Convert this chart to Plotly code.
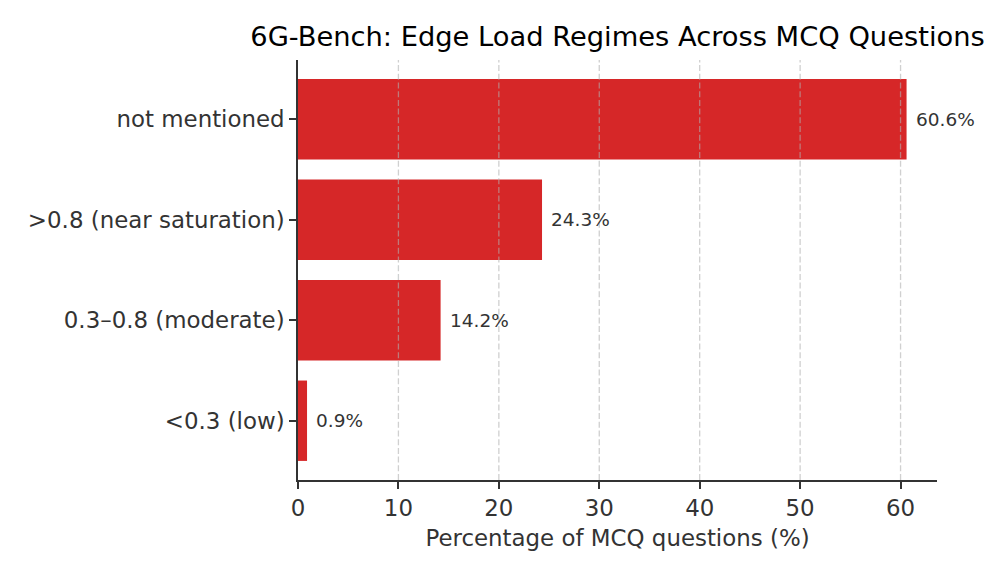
import plotly.graph_objects as go

categories = ["<0.3 (low)", "0.3–0.8 (moderate)", ">0.8 (near saturation)", "not mentioned"]
values = [0.9, 14.2, 24.3, 60.6]
x_ticks = [0, 10, 20, 30, 40, 50, 60]

title = "6G-Bench: Edge Load Regimes Across MCQ Questions"
x_title = "Percentage of MCQ questions (%)"

FONT = "DejaVu Sans"
BAR = "#d62728"
DARK = "#333333"
GRID = "rgba(176,176,176,0.6)"

fig = go.Figure()
fig.add_trace(go.Bar(
    x=values, y=list(range(len(categories))), orientation="h",
    marker=dict(color=BAR, line=dict(width=0)), width=0.8,
    hoverinfo="skip", showlegend=False,
))

# dashed vertical grid drawn above the bars (as in the reference)
for t in x_ticks[1:]:
    fig.add_shape(
        type="line", xref="x", yref="paper", x0=t, x1=t, y0=0, y1=1,
        line=dict(color=GRID, width=1.3, dash="6px,2.7px"), layer="above",
    )

for i, v in enumerate(values):
    fig.add_annotation(
        x=v, y=i, xref="x", yref="y", text=f"{v:.1f}%",
        showarrow=False, xanchor="left", yanchor="middle", xshift=7,
        font=dict(family=FONT, size=18.5, color=DARK),
    )

fig.update_layout(
    width=980, height=565,
    margin=dict(l=290, r=51, t=52, b=93),
    plot_bgcolor="white", paper_bgcolor="white",
    font=dict(family=FONT, color=DARK),
    title=dict(
        text=title, x=0.5, xref="paper", xanchor="center",
        y=1, yref="paper", yanchor="bottom", pad=dict(b=14),
        font=dict(family=FONT, size=27.3, color="black"),
    ),
    bargap=0.2,
)

fig.update_xaxes(
    range=[0, 63.63], tickvals=x_ticks, ticktext=[str(t) for t in x_ticks],
    showline=True, linecolor=DARK, linewidth=1.6, mirror=False,
    ticks="outside", ticklen=7, tickwidth=1.6, tickcolor=DARK,
    tickfont=dict(family=FONT, size=22.9, color=DARK),
    showgrid=False, zeroline=False, layer="above traces",
    title=dict(text=x_title, font=dict(family=FONT, size=22.9, color=DARK), standoff=10),
)

fig.update_yaxes(
    range=[-0.59, 3.59], tickvals=list(range(len(categories))), ticktext=categories,
    showline=True, linecolor=DARK, linewidth=1.6, mirror=False,
    ticks="outside", ticklen=7, tickwidth=1.6, tickcolor=DARK,
    tickfont=dict(family=FONT, size=22.9, color=DARK),
    showgrid=False, zeroline=False, layer="above traces",
)

fig.write_html("out.html")
